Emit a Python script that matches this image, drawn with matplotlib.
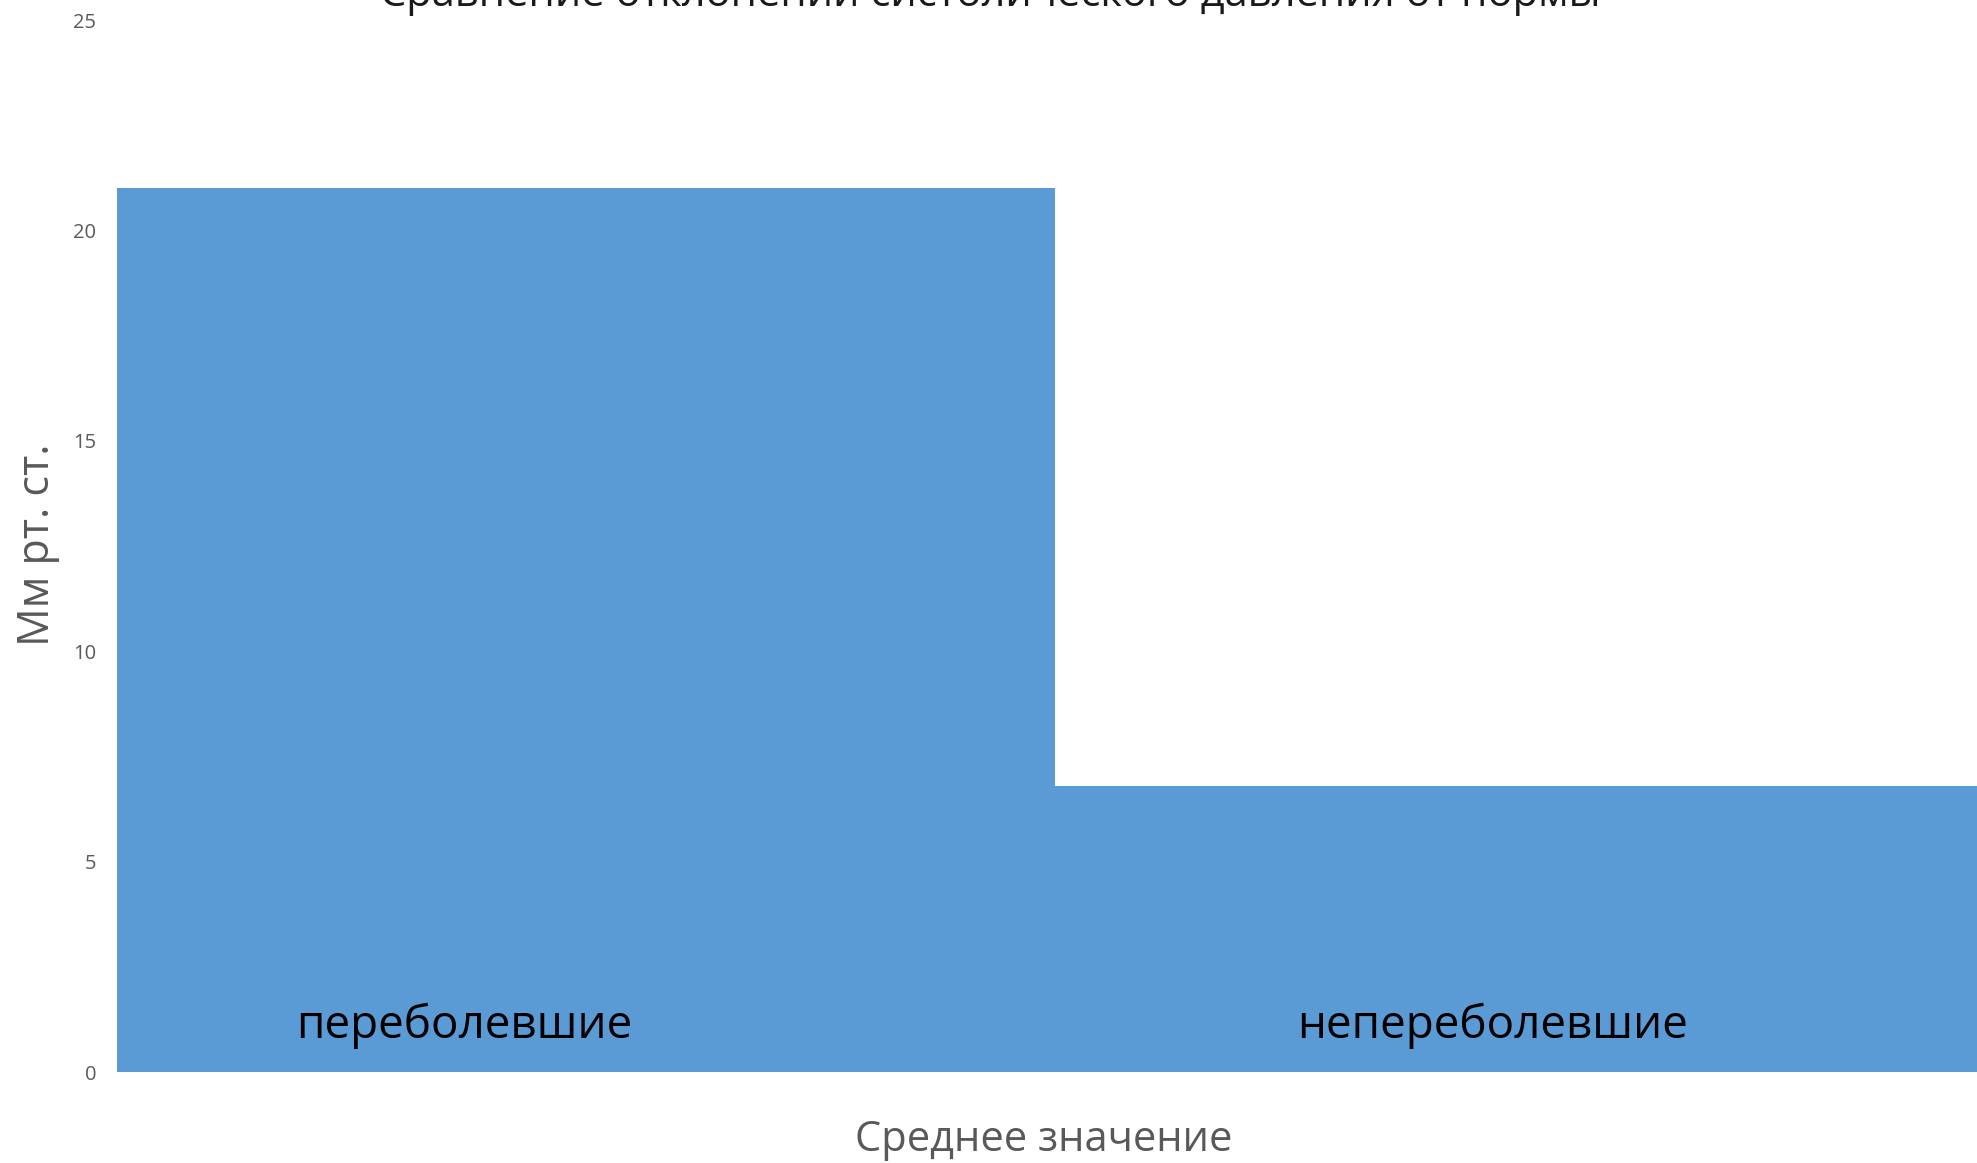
import matplotlib
matplotlib.use("Agg")
import matplotlib.pyplot as plt

plt.rcParams['font.family'] = ['Open Sans', 'DejaVu Sans']

groups = ['переболевшие', 'непереболевшие']
values = [21.0, 6.8]
label_x = [-0.13, 0.966]  # where the category names sit inside the bars
yticks = [0, 5, 10, 15, 20, 25]

title = 'Сравнение отклонений систолического давления от нормы'
xlabel = 'Среднее значение'
ylabel = 'Мм рт. ст.'

gray = '#595959'
blue = '#5B9BD5'

fig = plt.figure(figsize=(19.77, 11.63), dpi=100)
# axes run a little past the right edge, as in the original
ax = fig.add_axes([117/1977, 1 - 1072/1163, 1876/1977, (1072 - 20)/1163])

ax.bar(range(len(values)), values, width=1.0, color=blue, edgecolor='none')
ax.set_xlim(-0.5, 1.5)
ax.set_ylim(0, 25)
ax.set_yticks(yticks)
ax.set_xticks([])
ax.tick_params(axis='y', length=0, pad=15, labelsize=14.5, labelcolor=gray)
for s in ax.spines.values():
    s.set_visible(False)

for x, name in zip(label_x, groups):
    ax.text(x, 1.1, name, ha='center', va='center', fontsize=33, color='black')

fig.text(1044/1977, 1 - 1140/1163, xlabel, ha='center', va='center',
         fontsize=30, color=gray)
fig.text(38/1977, 1 - 545/1163, ylabel, ha='center', va='center',
         rotation=90, fontsize=31, color=gray)
fig.text(990/1977, 1 - 6/1163, title, ha='center', va='baseline',
         fontsize=30, color='#1a1a1a')

fig.savefig('out.png', dpi=100)
